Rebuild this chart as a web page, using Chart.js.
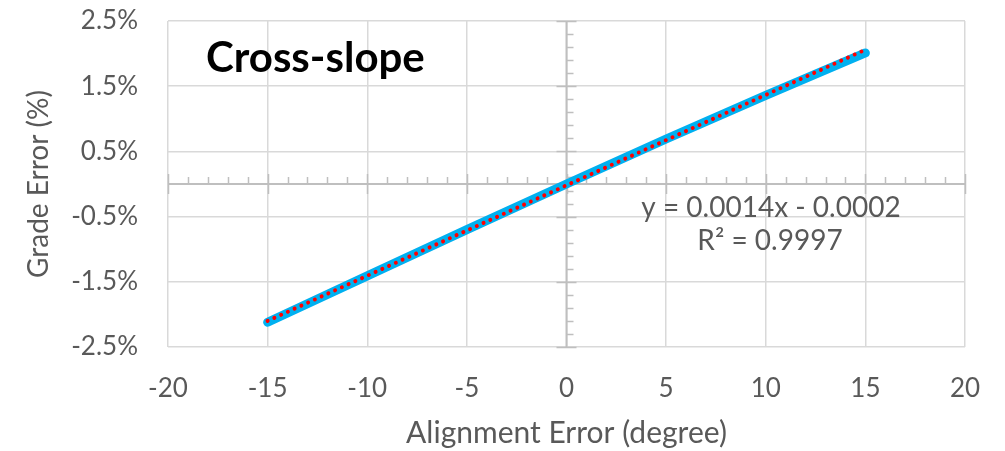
<!DOCTYPE html>
<html>
<head>
<meta charset="utf-8">
<script src="https://cdn.jsdelivr.net/npm/chart.js@4/dist/chart.umd.min.js"></script>
<style>
  html, body { margin: 0; padding: 0; background: #ffffff; }
  canvas { display: block; }
</style>
</head>
<body>
<canvas id="c" width="1005" height="451"></canvas>
<script>
// ---- data ----
const alignX = [-15, -10, -5, 0, 5, 10, 15];              // Alignment Error (degree)
const gradeY = [-2.12, -1.41, -0.70, 0.00, 0.69, 1.36, 2.01]; // Grade Error (%)
const trendX = [-15, 15];
const trendY = [-2.10, 2.06];
const chartTitle = 'Cross-slope';
const trendLabel = ['y = 0.0014x - 0.0002', 'R\u00B2 = 0.9997'];
const xTitle = 'Alignment Error (degree)';
const yTitle = 'Grade Error (%)';

const FONT = 'Lato, "Open Sans", sans-serif';
const GREY = '#595959';

const toPts = (xs, ys) => xs.map((x, i) => ({ x: x, y: ys[i] }));

const zeroAxes = {
  id: 'zeroAxes',
  beforeDatasetsDraw(chart) {
    const { ctx, scales: { x, y } } = chart;
    const y0 = y.getPixelForValue(0);
    const x0 = x.getPixelForValue(0);
    ctx.save();
    ctx.strokeStyle = '#BFBFBF';
    ctx.lineWidth = 2;
    ctx.beginPath();
    ctx.moveTo(x.getPixelForValue(x.min), y0);
    ctx.lineTo(x.getPixelForValue(x.max), y0);
    ctx.stroke();
    ctx.lineWidth = 1.5;
    for (let v = x.min; v <= x.max + 1e-9; v += 1) {
      const px = Math.round(x.getPixelForValue(v)) + 0.5;
      ctx.beginPath();
      if (Math.abs(v % 5) < 1e-9) { ctx.moveTo(px, y0 - 10); ctx.lineTo(px, y0 + 10); }
      else { ctx.moveTo(px, y0 - 7); ctx.lineTo(px, y0); }
      ctx.stroke();
    }
    ctx.lineWidth = 2;
    ctx.beginPath();
    ctx.moveTo(x0, y.getPixelForValue(y.min));
    ctx.lineTo(x0, y.getPixelForValue(y.max));
    ctx.stroke();
    ctx.lineWidth = 1.5;
    for (let i = 0; i <= 25; i++) {
      const v = y.min + i * 0.2;
      const py = Math.round(y.getPixelForValue(v)) + 0.5;
      ctx.beginPath();
      if (i % 5 === 0) { ctx.moveTo(x0 - 10, py); ctx.lineTo(x0 + 10, py); }
      else { ctx.moveTo(x0, py); ctx.lineTo(x0 + 7, py); }
      ctx.stroke();
    }
    ctx.restore();
  },
  afterDraw(chart) {
    const { ctx } = chart;
    ctx.save();
    ctx.fillStyle = '#000000';
    ctx.font = 'bold 42px ' + FONT;
    ctx.textBaseline = 'middle';
    ctx.textAlign = 'left';
    ctx.fillText(chartTitle, 206, 58);
    ctx.fillStyle = GREY;
    ctx.font = '28px ' + FONT;
    ctx.textAlign = 'center';
    ctx.fillText(trendLabel[0], 771, 208);
    ctx.fillText(trendLabel[1], 770, 241);
    ctx.restore();
  }
};

function noPad(s) { s.paddingTop = 0; s.paddingBottom = 0; s.paddingLeft = 0; s.paddingRight = 0; }

new Chart(document.getElementById('c'), {
  type: 'scatter',
  data: {
    datasets: [
      {
        label: 'Cross-slope',
        data: toPts(alignX, gradeY),
        showLine: true,
        borderColor: '#00B0F0',
        backgroundColor: '#00B0F0',
        borderWidth: 9,
        borderCapStyle: 'round',
        pointRadius: 0,
        order: 2
      },
      {
        label: 'Trend',
        data: toPts(trendX, trendY),
        showLine: true,
        borderColor: '#FF0000',
        borderWidth: 4,
        borderCapStyle: 'round',
        borderDash: [0.01, 7.4],
        pointRadius: 0,
        order: 1
      }
    ]
  },
  options: {
    responsive: false,
    animation: false,
    devicePixelRatio: 1,
    layout: { padding: { left: 0, right: 40, top: 21, bottom: 0 } },
    plugins: { legend: { display: false }, tooltip: { enabled: false } },
    scales: {
      x: {
        type: 'linear',
        min: -20, max: 20,
        afterFit(s) { s.height = 104; noPad(s); },
        border: { display: false },
        grid: { color: '#D9D9D9', lineWidth: 1.5, drawTicks: false },
        ticks: { stepSize: 5, padding: 26, color: GREY, font: { family: FONT, size: 26 } },
        title: { display: true, text: xTitle, color: GREY, font: { family: FONT, size: 30 }, padding: { top: 0, bottom: 0 } }
      },
      y: {
        type: 'linear',
        min: -2.5, max: 2.5,
        afterFit(s) { s.width = 168; noPad(s); },
        border: { display: false },
        grid: { color: '#D9D9D9', lineWidth: 1.5, drawTicks: false },
        ticks: { stepSize: 1, padding: 30, color: GREY, font: { family: FONT, size: 26 },
                 callback: v => v.toFixed(1) + '%' },
        title: { display: true, text: yTitle, color: GREY, font: { family: FONT, size: 28 }, padding: { top: 22, bottom: 0 } }
      }
    }
  },
  plugins: [zeroAxes]
});
</script>
</body>
</html>
